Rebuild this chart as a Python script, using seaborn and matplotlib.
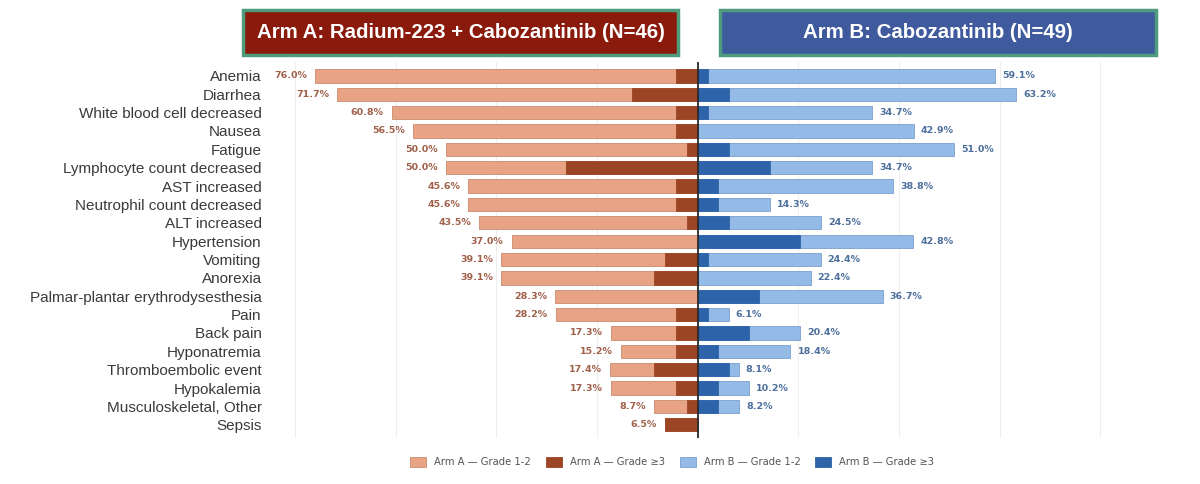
import matplotlib
matplotlib.use("Agg")
import matplotlib.pyplot as plt
from matplotlib.patches import Patch, Rectangle
import seaborn as sns
import pandas as pd

categories = [
    "Anemia", "Diarrhea", "White blood cell decreased", "Nausea", "Fatigue",
    "Lymphocyte count decreased", "AST increased", "Neutrophil count decreased",
    "ALT increased", "Hypertension", "Vomiting", "Anorexia",
    "Palmar-plantar erythrodysesthesia", "Pain", "Back pain", "Hyponatremia",
    "Thromboembolic event", "Hypokalemia", "Musculoskeletal, Other", "Sepsis",
]
arm_a_total = [76.0, 71.7, 60.8, 56.5, 50.0, 50.0, 45.6, 45.6, 43.5, 37.0,
               39.1, 39.1, 28.3, 28.2, 17.3, 15.2, 17.4, 17.3, 8.7, 6.5]
arm_a_g3 = [4.3, 13.0, 4.3, 4.3, 2.2, 26.1, 4.3, 4.3, 2.2, 0.0,
            6.5, 8.7, 0.0, 4.3, 4.3, 4.3, 8.7, 4.3, 2.2, 6.5]
arm_b_total = [59.1, 63.2, 34.7, 42.9, 51.0, 34.7, 38.8, 14.3, 24.5, 42.8,
               24.4, 22.4, 36.7, 6.1, 20.4, 18.4, 8.1, 10.2, 8.2, 0.0]
arm_b_g3 = [2.0, 6.1, 2.0, 0.0, 6.1, 14.3, 4.1, 4.1, 6.1, 20.4,
            2.0, 0.0, 12.2, 2.0, 10.2, 4.1, 6.1, 4.1, 4.1, 0.0]

title_a = "Arm A: Radium-223 + Cabozantinib (N=46)"
title_b = "Arm B: Cabozantinib (N=49)"
legend_labels = ["Arm A \u2014 Grade 1-2", "Arm A \u2014 Grade \u22653",
                 "Arm B \u2014 Grade 1-2", "Arm B \u2014 Grade \u22653"]

A_LIGHT, A_DARK = "#e8a385", "#9c4524"
B_LIGHT, B_DARK = "#94bbe8", "#2d63a8"
A_TEXT, B_TEXT = "#a0604a", "#4d6f9c"

df = pd.DataFrame({
    "ae": categories,
    "a_total": [-v for v in arm_a_total],
    "a_g3": [-v for v in arm_a_g3],
    "b_total": arm_b_total,
    "b_g3": arm_b_g3,
})

sns.set_style("white")
fig = plt.figure(figsize=(12, 4.84), dpi=100)
ax = fig.add_axes([0.225, 0.095, 0.713, 0.777])

for col, colr, ec in [("a_total", A_LIGHT, "#c98b70"), ("a_g3", A_DARK, A_DARK),
                      ("b_total", B_LIGHT, "#7a9fcc"), ("b_g3", B_DARK, B_DARK)]:
    sns.barplot(data=df, x=col, y="ae", orient="h", color=colr, width=0.72,
                edgecolor=ec, linewidth=0.6, saturation=1, ax=ax, zorder=2)

for i, (a, b) in enumerate(zip(arm_a_total, arm_b_total)):
    ax.text(-a - 1.6, i, f"{a:.1f}%", ha="right", va="center", fontsize=6.8,
            fontweight="bold", color=A_TEXT, family="DejaVu Sans")
    if b > 0:
        ax.text(b + 1.4, i, f"{b:.1f}%", ha="left", va="center", fontsize=6.8,
                fontweight="bold", color=B_TEXT, family="DejaVu Sans")

ax.axvline(0, color="#2b2b2b", lw=1.3, zorder=4)
ax.set_xlim(-85, 85)
ax.set_ylim(19.72, -0.76)
ax.set_xticks(range(-80, 81, 20))
ax.grid(axis="x", color="#eeeeee", lw=0.8, zorder=0)
ax.grid(axis="y", visible=False)
ax.set_axisbelow(True)
ax.tick_params(axis="x", length=0, labelbottom=False)
ax.tick_params(axis="y", length=0, pad=6)
for lbl in ax.get_yticklabels():
    lbl.set_fontfamily("Liberation Sans")
    lbl.set_fontsize(11)
    lbl.set_color("#3a3a3a")
ax.set_xlabel("")
ax.set_ylabel("")
sns.despine(ax=ax, left=True, bottom=True)

# header boxes
for (x0, x1, txt, fc) in [(243, 678, title_a, "#8a1a0b"), (720, 1156, title_b, "#3f5b9e")]:
    fig.add_artist(Rectangle((x0 / 1200, 1 - 55 / 484), (x1 - x0) / 1200, 45 / 484,
                             transform=fig.transFigure, facecolor=fc,
                             edgecolor="#4f9c7c", lw=2.5))
    fig.text((x0 + x1) / 2 / 1200, 1 - 33 / 484, txt, ha="center", va="center",
             color="white", fontsize=14.7, fontweight="bold",
             family="Liberation Sans")

handles = [Patch(facecolor=c, edgecolor=e, lw=0.6) for c, e in
           [(A_LIGHT, "#c98b70"), (A_DARK, A_DARK), (B_LIGHT, "#7a9fcc"), (B_DARK, B_DARK)]]
fig.legend(handles, legend_labels, loc="center", ncol=4, frameon=False,
           bbox_to_anchor=(672 / 1200, 1 - 462 / 484), fontsize=7.2,
           handlelength=1.6, handleheight=1.1, columnspacing=1.5,
           labelcolor="#555555")

fig.savefig("out.png", dpi=100)
